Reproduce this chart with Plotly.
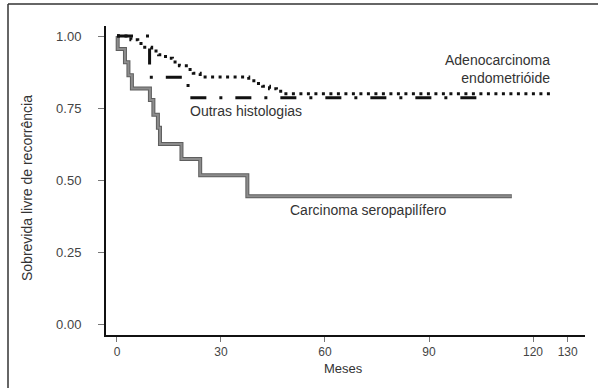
import plotly.graph_objects as go

# ---- data (months, survival) ----
sero_t = [0, 0.2, 2.3, 3.3, 4.3, 9.5, 10.5, 11.8, 12.4, 18.6, 24.0, 37.6, 113.9]
sero_s = [1.0, 0.955, 0.909, 0.864, 0.818, 0.778, 0.727, 0.682, 0.625, 0.573, 0.517, 0.444, 0.444]

endo_t = [0, 4, 6, 8, 10, 12, 14, 16, 18, 20, 22, 24, 38, 40, 42, 44, 46, 48, 126]
endo_s = [1.0, 0.987, 0.974, 0.961, 0.948, 0.935, 0.923, 0.910, 0.897, 0.884, 0.871, 0.858,
          0.845, 0.835, 0.826, 0.817, 0.808, 0.800, 0.800]

outras_t = [0, 9.4, 20.5, 106]
outras_s = [1.0, 0.857, 0.786, 0.786]

x_ticks = [0, 30, 60, 90, 120, 130]
y_ticks = [0.0, 0.25, 0.50, 0.75, 1.00]
y_tick_text = ["0.00", "0.25", "0.50", "0.75", "1.00"]

lbl_endo = "Adenocarcinoma<br>endometrióide"
lbl_outras = "Outras histologias"
lbl_sero = "Carcinoma seropapilífero"

FONT = "Liberation Sans, Arial, sans-serif"

fig = go.Figure()
fig.add_trace(go.Scatter(x=sero_t, y=sero_s, mode="lines",
                         line=dict(shape="hv", color="#5e5e5e", width=4)))
fig.add_trace(go.Scatter(x=sero_t, y=sero_s, mode="lines",
                         line=dict(shape="hv", color="#8c8c8c", width=2)))
fig.add_trace(go.Scatter(x=outras_t, y=outras_s, mode="lines",
                         line=dict(shape="hv", color="#111111", width=3,
                                   dash="16px,13px,3px,13px")))
fig.add_trace(go.Scatter(x=endo_t, y=endo_s, mode="lines",
                         line=dict(shape="hv", color="#111111", width=3,
                                   dash="3px,4.5px")))

fig.add_annotation(x=125.5, y=0.885, xref="x", yref="y", text=lbl_endo,
                   showarrow=False, xanchor="right", yanchor="middle", align="right",
                   font=dict(family=FONT, size=14, color="#333333"))
fig.add_annotation(x=20.5, y=0.741, xref="x", yref="y", text=lbl_outras,
                   showarrow=False, xanchor="left", yanchor="middle",
                   font=dict(family=FONT, size=14, color="#333333"))
fig.add_annotation(x=49.3, y=0.396, xref="x", yref="y", text=lbl_sero,
                   showarrow=False, xanchor="left", yanchor="middle",
                   font=dict(family=FONT, size=14, color="#333333"))

# axis titles
fig.add_annotation(x=(27 - 106) / 479, y=(335 - 188) / 309, xref="paper", yref="paper",
                   text="Sobrevida livre de recorrência", textangle=-90, showarrow=False,
                   xanchor="center", yanchor="middle",
                   font=dict(family=FONT, size=14, color="#333333"))
fig.add_annotation(x=(343 - 106) / 479, y=(335 - 368) / 309, xref="paper", yref="paper",
                   text="Meses", showarrow=False, xanchor="center", yanchor="middle",
                   font=dict(family=FONT, size=13, color="#333333"))

# outer frame (left and top edges)
fx0 = (8 - 106) / 479
fy0 = (335 - 4) / 309
fig.add_shape(type="line", xref="paper", yref="paper", x0=fx0, x1=fx0, y0=fy0, y1=-0.2,
              line=dict(color="#333333", width=1.5))
fig.add_shape(type="line", xref="paper", yref="paper", x0=fx0, x1=1.1, y0=fy0, y1=fy0,
              line=dict(color="#333333", width=1.5))

fig.update_layout(
    width=598, height=388,
    margin=dict(l=106, r=13, t=26, b=53),
    paper_bgcolor="white", plot_bgcolor="white",
    showlegend=False,
    font=dict(family=FONT, size=12, color="#444444"),
    xaxis=dict(range=[-3.17, 135.0], tickvals=x_ticks, showgrid=False, zeroline=False,
               showline=True, linecolor="#111111", linewidth=2,
               ticks="outside", ticklen=5, tickcolor="#777777", tickwidth=1,
               tickfont=dict(family=FONT, size=12, color="#444444")),
    yaxis=dict(range=[-0.038, 1.035], tickvals=y_ticks, ticktext=y_tick_text,
               showgrid=False, zeroline=False,
               showline=True, linecolor="#111111", linewidth=2,
               ticks="outside", ticklen=6, tickcolor="#777777", tickwidth=1,
               ticklabelstandoff=14,
               tickfont=dict(family=FONT, size=13, color="#444444")),
)

fig.write_html("out.html")
